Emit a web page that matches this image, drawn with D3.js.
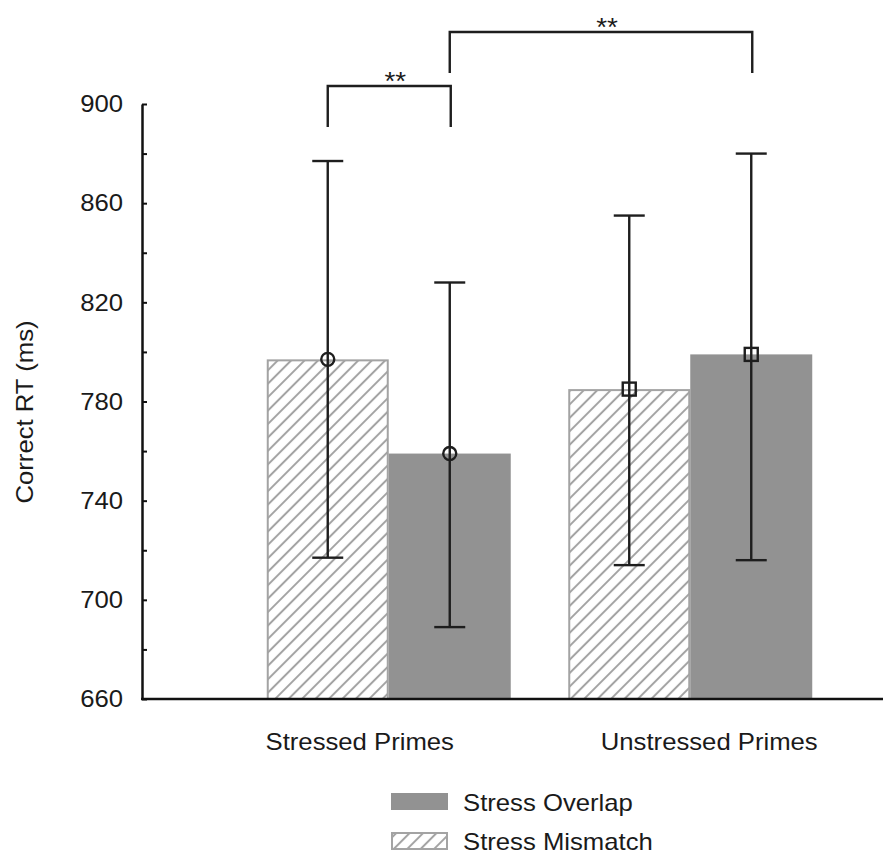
<!DOCTYPE html>
<html>
<head>
<meta charset="utf-8">
<script src="https://cdn.jsdelivr.net/npm/d3@7"></script>
<style>
  html, body { margin: 0; padding: 0; background: #fff; }
  text { font-family: "Liberation Sans", Arial, Helvetica, sans-serif; fill: #1a1a1a; }
</style>
</head>
<body>
<svg id="chart" width="883" height="854"></svg>
<script>
// ---- data ----
const categories = ["Stressed Primes", "Unstressed Primes"];
const conditions = ["Stress Mismatch", "Stress Overlap"];
const meanMismatch = [797, 785];
const meanOverlap = [759, 799];
const lowMismatch = [717, 714];
const highMismatch = [877, 855];
const lowOverlap = [689, 716];
const highOverlap = [828, 880];
const markerShape = ["circle", "square"];
const yTicks = [660, 680, 700, 720, 740, 760, 780, 800, 820, 840, 860, 880, 900];
const yLabels = [660, 700, 740, 780, 820, 860, 900];
const sigLabel = ["**", "**"];

const rows = [];
categories.forEach((c, i) => {
  rows.push({cat: c, cond: conditions[0], mean: meanMismatch[i], lo: lowMismatch[i], hi: highMismatch[i], shape: markerShape[i]});
  rows.push({cat: c, cond: conditions[1], mean: meanOverlap[i], lo: lowOverlap[i], hi: highOverlap[i], shape: markerShape[i]});
});

// ---- layout ----
const svg = d3.select("#chart");
const y = d3.scaleLinear().domain([660, 900]).range([699, 104]);
const x0 = d3.scaleBand().domain(categories).range([238, 841]).padding(0);
const bw = x0.bandwidth();
const barW = 122;
const x1 = d3.scaleBand().domain(conditions).range([bw / 2 - barW, bw / 2 + barW]).padding(0);
const cx = d => x0(d.cat) + x1(d.cond) + x1.bandwidth() / 2;

const FS = 24;
const STRETCH = 1.07;
const textColor = "#1a1a1a";
const lineColor = "#1e1e1e";
const solidFill = "#929292";
const hatchColor = "#a3a3a3";

// hatch pattern
const defs = svg.append("defs");
const pat = defs.append("pattern")
  .attr("id", "hatch")
  .attr("patternUnits", "userSpaceOnUse")
  .attr("width", 9.5).attr("height", 9.5)
  .attr("patternTransform", "rotate(45)");
pat.append("rect").attr("width", 9.5).attr("height", 9.5).attr("fill", "#fff");
pat.append("line").attr("x1", 4.75).attr("x2", 4.75).attr("y1", -1).attr("y2", 11)
  .attr("stroke", hatchColor).attr("stroke-width", 2);

// bars
const g = svg.append("g");
g.selectAll("rect.bar").data(rows).enter().append("rect")
  .attr("class", "bar")
  .attr("x", d => x0(d.cat) + x1(d.cond) + (d.cond === conditions[0] ? 1 : 0))
  .attr("width", d => x1.bandwidth() - (d.cond === conditions[0] ? 2 : 0))
  .attr("y", d => y(d.mean) + (d.cond === conditions[0] ? 1 : 0))
  .attr("height", d => y(660) - y(d.mean) - (d.cond === conditions[0] ? 1 : 0))
  .attr("fill", d => d.cond === conditions[0] ? "url(#hatch)" : solidFill)
  .attr("stroke", d => d.cond === conditions[0] ? hatchColor : "none")
  .attr("stroke-width", 2);

// error bars
const capW = 31;
const eb = g.selectAll("g.eb").data(rows).enter().append("g").attr("class", "eb");
eb.append("line").attr("x1", cx).attr("x2", cx).attr("y1", d => y(d.lo)).attr("y2", d => y(d.hi))
  .attr("stroke", lineColor).attr("stroke-width", 2.4);
eb.append("line").attr("x1", d => cx(d) - capW / 2).attr("x2", d => cx(d) + capW / 2)
  .attr("y1", d => y(d.hi)).attr("y2", d => y(d.hi)).attr("stroke", lineColor).attr("stroke-width", 2.4);
eb.append("line").attr("x1", d => cx(d) - capW / 2).attr("x2", d => cx(d) + capW / 2)
  .attr("y1", d => y(d.lo)).attr("y2", d => y(d.lo)).attr("stroke", lineColor).attr("stroke-width", 2.4);
eb.each(function(d) {
  const s = d3.select(this);
  if (d.shape === "circle") {
    s.append("circle").attr("cx", cx(d)).attr("cy", y(d.mean)).attr("r", 6.5)
      .attr("fill", "none").attr("stroke", lineColor).attr("stroke-width", 2.4);
  } else {
    s.append("rect").attr("x", cx(d) - 6.5).attr("y", y(d.mean) - 6.5).attr("width", 13).attr("height", 13)
      .attr("fill", "none").attr("stroke", lineColor).attr("stroke-width", 2.4);
  }
});

// y axis
const yAxis = d3.axisLeft(y).tickValues(yTicks)
  .tickSizeInner(-5).tickSizeOuter(0).tickPadding(19)
  .tickFormat(d => yLabels.includes(d) ? d : "");
const ya = svg.append("g").attr("transform", "translate(142,0)").call(yAxis);
ya.select(".domain").attr("stroke", "#111").attr("stroke-width", 2.5);
ya.selectAll(".tick line").attr("stroke", "#111").attr("stroke-width", 2);
ya.selectAll(".tick text").attr("font-size", FS).attr("fill", textColor)
  .attr("font-family", "Liberation Sans, Arial, sans-serif");

// x axis line
svg.append("line").attr("x1", 141).attr("x2", 883).attr("y1", y(660)).attr("y2", y(660))
  .attr("stroke", "#111").attr("stroke-width", 2.5);

// category labels
const labelShift = [-29, 19];
svg.selectAll("text.cat").data(categories).enter().append("text")
  .attr("class", "cat")
  .attr("x", (d, i) => x0(d) + bw / 2 + labelShift[i])
  .attr("y", 750)
  .attr("text-anchor", "middle")
  .attr("font-size", FS)
  .text(d => d);

// y title
svg.append("text")
  .attr("transform", "translate(33,412) rotate(-90)")
  .attr("text-anchor", "middle")
  .attr("font-size", FS)
  .text("Correct RT (ms)");

// significance brackets
const rowAt = (ci, k) => rows[ci * 2 + k];
const brackets = [
  {a: rowAt(0, 0), b: rowAt(0, 1), top: 86, legL: 127, legR: 127},
  {a: rowAt(0, 1), b: rowAt(1, 1), top: 32, legL: 73, legR: 73}
];
brackets.forEach((br, i) => {
  const xa = cx(br.a), xb = cx(br.b) + 1;
  svg.append("path")
    .attr("d", `M${xa},${br.legL}V${br.top}H${xb}V${br.legR}`)
    .attr("fill", "none").attr("stroke", lineColor).attr("stroke-width", 2.4);
  svg.append("text")
    .attr("x", (xa + xb) / 2 + 6)
    .attr("y", br.top + 4)
    .attr("text-anchor", "middle")
    .attr("font-size", 26)
    .text(sigLabel[i]);
});

// legend
const legend = svg.append("g");
const legendItems = [conditions[1], conditions[0]];
legendItems.forEach((c, i) => {
  const ly = 793 + i * 39;
  legend.append("rect")
    .attr("x", c === conditions[0] ? 392 : 391)
    .attr("y", c === conditions[0] ? ly + 1 : ly)
    .attr("width", c === conditions[0] ? 55 : 57)
    .attr("height", c === conditions[0] ? 16 : 17)
    .attr("fill", c === conditions[0] ? "url(#hatch)" : solidFill)
    .attr("stroke", c === conditions[0] ? hatchColor : "none")
    .attr("stroke-width", 2);
  legend.append("text")
    .attr("x", 463).attr("y", ly + 18)
    .attr("font-size", FS)
    .text(c);
});

// slightly wider glyphs, as in the reference
svg.selectAll("text").each(function() {
  const len = this.getComputedTextLength();
  if (len > 0) {
    d3.select(this).attr("textLength", len * STRETCH).attr("lengthAdjust", "spacingAndGlyphs");
  }
});
</script>
</body>
</html>
